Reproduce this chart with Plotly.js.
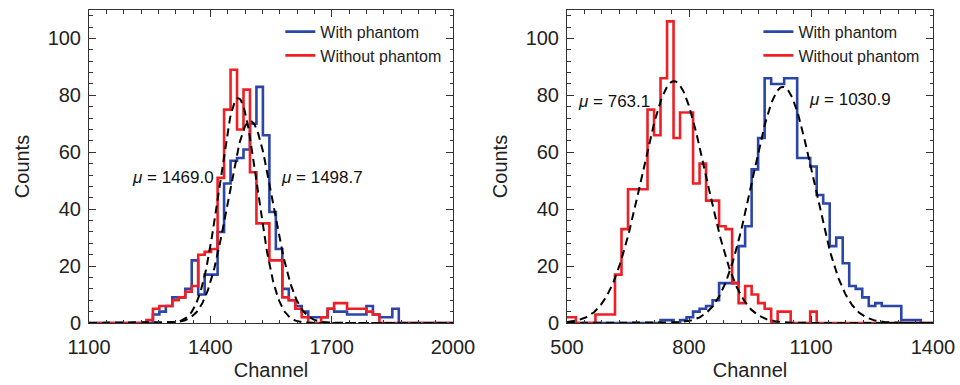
<!DOCTYPE html>
<html>
<head>
<meta charset="utf-8">
<script src="https://cdn.plot.ly/plotly-3.0.1.min.js"></script>
<style>html,body{margin:0;padding:0;background:#fff;}#chart{width:960px;height:385px;}</style>
</head>
<body>
<div id="chart"></div>
<script>
// ---- data ----
const binWidth = 16;
const leftBinStart = 1098;   // left panel: first bin edge
const rightBinStart = 490;   // right panel: first bin edge

// left panel counts (57 bins of 16 channels, starting at 1098)
const leftWith = [0,0,0,0,0,0,0,0,0,
  0,3,4,6,9,9,12,22,10,17,17,32,49,57,58,61,70,83,66,39,26,12,8,6,4,2,2,2,5,4,4,3,3,3,6,3,2,2,5,0,
  0,0,0,0,0,0,0,0];
const leftWithout = [0,0,0,0,0,0,0,0,0,
  1,5,6,6,8,9,11,13,24,25,26,51,75,89,68,82,53,35,35,22,22,9,8,5,2,0,0,2,5,7,7,5,5,5,4,3,
  0,0,0,0,0,0,0,0,0,0,0,0];

// right panel counts (57 bins of 16 channels, starting at 490)
const rightWith = [0,0,0,0,0,0,0,0,0,0,0,0,0,0,0,
  1,1,0,1,2,4,5,6,8,14,14,14,27,34,54,65,86,84,84,86,86,58,58,55,45,42,27,30,21,13,12,9,6,7,6,6,6,1,1,1,0,0];
const rightWithout = [2,2,0,0,0,3,3,3,17,33,47,47,47,75,66,86,106,65,74,74,49,56,43,43,34,33,14,7,13,10,7,5,0,4,4,0,0,0,4,
  0,0,0,0,0,0,0,0,0,0,0,0,0,0,0,0,0,0];

// Gaussian fits: [left without, left with, right without, right with]
const fitMu    = [1469.0, 1498.7, 763.1, 1030.9];
const fitSigma = [47, 55, 79, 75];
const fitAmp   = [79, 71, 85, 83];
const fitAxis  = ['x', 'x', 'x2', 'x2'];
const fitLabel = ['μ = 1469.0', 'μ = 1498.7', 'μ = 763.1', 'μ = 1030.9'];
const fitLabelX = [1202, 1570, 522, 1091];   // left edge of each label
const fitLabelY = [51, 51, 78, 78.5];

const leftRange = [1100, 2000];
const rightRange = [500, 1400];
const xTickVals = [[1100, 1400, 1700, 2000], [500, 800, 1100, 1400]];
const yTickVals = [0, 20, 40, 60, 80, 100];
const seriesNames = ['With phantom', 'Without phantom'];

// ---- styling ----
const BLUE = '#2b46a8';
const RED = '#ee2026';
const FONT = 'Liberation Sans, Arial, sans-serif';

function stepTrace(start, counts, color, name, xa, ya, legend, show) {
  const x = [], y = [];
  for (let i = 0; i < counts.length; i++) { x.push(start + i * binWidth); y.push(counts[i]); }
  x.push(start + counts.length * binWidth); y.push(counts[counts.length - 1]);
  return {type: 'scatter', mode: 'lines', x: x, y: y, xaxis: xa, yaxis: ya,
    line: {shape: 'hv', color: color, width: 2.6}, name: name, legend: legend,
    showlegend: show, hoverinfo: 'skip'};
}

function fitTrace(k) {
  const range = fitAxis[k] === 'x' ? leftRange : rightRange;
  const n = 400, x = [], y = [];
  for (let i = 0; i <= n; i++) {
    const c = range[0] + (range[1] - range[0]) * i / n;
    x.push(c);
    y.push(fitAmp[k] * Math.exp(-Math.pow(c - fitMu[k], 2) / (2 * fitSigma[k] * fitSigma[k])));
  }
  return {type: 'scatter', mode: 'lines', x: x, y: y, xaxis: fitAxis[k],
    yaxis: fitAxis[k] === 'x' ? 'y' : 'y2',
    line: {color: '#000', width: 2, dash: '8px,5px'}, showlegend: false, hoverinfo: 'skip'};
}

const traces = [
  stepTrace(leftBinStart, leftWith, BLUE, seriesNames[0], 'x', 'y', 'legend', true),
  stepTrace(leftBinStart, leftWithout, RED, seriesNames[1], 'x', 'y', 'legend', true),
  stepTrace(rightBinStart, rightWith, BLUE, seriesNames[0], 'x2', 'y2', 'legend2', true),
  stepTrace(rightBinStart, rightWithout, RED, seriesNames[1], 'x2', 'y2', 'legend2', true),
  fitTrace(0), fitTrace(1), fitTrace(2), fitTrace(3)
];

function xAxis(domain, range, ticks, anchor) {
  return {domain: domain, range: range, anchor: anchor, tickvals: ticks,
    ticks: 'inside', ticklen: 7, tickwidth: 1, tickcolor: '#333',
    showline: true, linecolor: '#333', linewidth: 1, mirror: 'ticks',
    showgrid: false, zeroline: false,
    minor: {dtick: 300 / 7, tick0: range[0], ticks: 'inside', ticklen: 3.5, tickcolor: '#333', showgrid: false},
    tickfont: {family: FONT, size: 20, color: '#222'}, ticklabelstandoff: 6,
    title: {text: 'Channel', font: {family: FONT, size: 20, color: '#222'}, standoff: 5}};
}
function yAxis(anchor) {
  return {range: [0, 110], domain: [0, 1], anchor: anchor, tickvals: yTickVals,
    ticks: 'inside', ticklen: 7, tickwidth: 1, tickcolor: '#333',
    showline: true, linecolor: '#333', linewidth: 1, mirror: 'ticks',
    showgrid: false, zeroline: false,
    minor: {dtick: 4, ticks: 'inside', ticklen: 3.5, tickcolor: '#333', showgrid: false},
    tickfont: {family: FONT, size: 20, color: '#222'}, ticklabelstandoff: 3,
    title: {text: 'Counts', font: {family: FONT, size: 20, color: '#222'}, standoff: 12}};
}

const annotations = fitLabel.map((t, k) => ({
  text: t.replace('μ', '<i>μ</i>'), x: fitLabelX[k], y: fitLabelY[k], xanchor: 'left',
  xref: fitAxis[k], yref: fitAxis[k] === 'x' ? 'y' : 'y2',
  showarrow: false, font: {family: FONT, size: 17, color: '#111'}
}));

const legendBase = {bgcolor: 'rgba(0,0,0,0)', borderwidth: 0, xanchor: 'left', yanchor: 'top',
  font: {family: FONT, size: 16, color: '#222'}, itemwidth: 30, tracegroupgap: 0};

const layout = {
  width: 960, height: 385,
  margin: {l: 0, r: 0, t: 10, b: 62},
  paper_bgcolor: '#fff', plot_bgcolor: '#fff',
  showlegend: true,
  xaxis: xAxis([89 / 960, 453 / 960], leftRange, xTickVals[0], 'y'),
  yaxis: yAxis('x'),
  xaxis2: xAxis([567 / 960, 933 / 960], rightRange, xTickVals[1], 'y2'),
  yaxis2: yAxis('x2'),
  legend: Object.assign({x: 0.292, y: 0.985}, legendBase),
  legend2: Object.assign({x: 0.79, y: 0.985}, legendBase),
  annotations: annotations
};

Plotly.newPlot('chart', traces, layout, {staticPlot: true, displayModeBar: false});
</script>
</body>
</html>
